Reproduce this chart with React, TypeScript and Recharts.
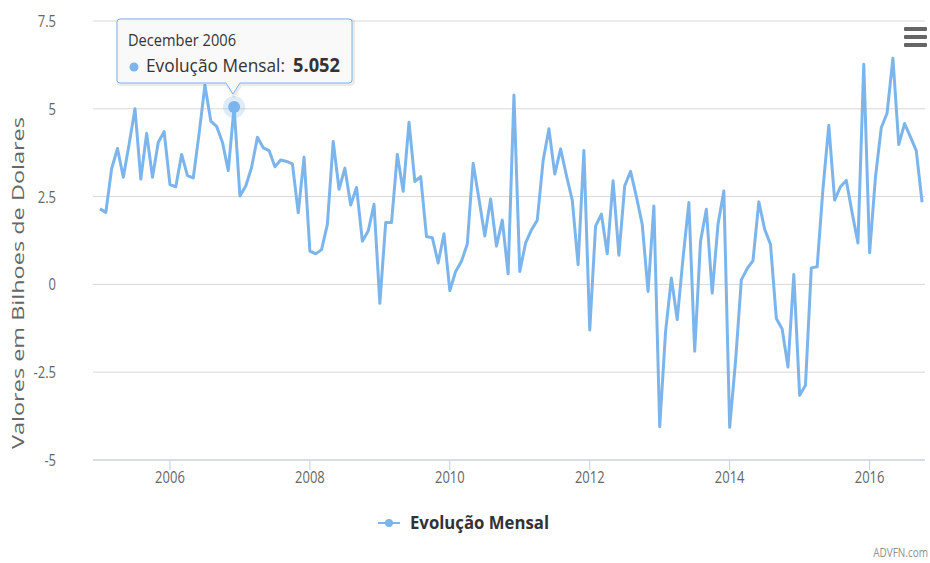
import React from 'react';
import { LineChart, Line, XAxis, YAxis, CartesianGrid, Tooltip, Legend } from 'recharts';

// Evolução mensal (bilhões de US$), Jan 2005 – Oct 2016
const firstYear = 2005;
const monthNames = [
  'January', 'February', 'March', 'April', 'May', 'June',
  'July', 'August', 'September', 'October', 'November', 'December',
];
const v2005 = [2.15, 2.05, 3.3, 3.87, 3.05, 4.0, 5.0, 3.0, 4.3, 3.05, 4.05, 4.35];
const v2006 = [2.84, 2.78, 3.7, 3.1, 3.03, 4.3, 5.67, 4.65, 4.5, 4.05, 3.24, 5.052];
const v2007 = [2.52, 2.8, 3.33, 4.19, 3.89, 3.81, 3.35, 3.54, 3.5, 3.43, 2.04, 3.62];
const v2008 = [0.95, 0.87, 0.99, 1.71, 4.07, 2.71, 3.31, 2.26, 2.76, 1.23, 1.52, 2.28];
const v2009 = [-0.54, 1.76, 1.76, 3.7, 2.65, 4.62, 2.93, 3.07, 1.36, 1.33, 0.61, 1.44];
const v2010 = [-0.18, 0.37, 0.66, 1.15, 3.45, 2.43, 1.38, 2.43, 1.09, 1.83, 0.3, 5.39];
const v2011 = [0.37, 1.18, 1.55, 1.83, 3.52, 4.43, 3.14, 3.86, 3.1, 2.4, 0.56, 3.81];
const v2012 = [-1.3, 1.66, 2.0, 0.87, 2.95, 0.83, 2.81, 3.22, 2.5, 1.71, -0.2, 2.23];
const v2013 = [-4.05, -1.35, 0.18, -1.0, 0.75, 2.33, -1.9, 1.23, 2.14, -0.25, 1.71, 2.66];
const v2014 = [-4.07, -2.2, 0.13, 0.45, 0.68, 2.35, 1.57, 1.14, -0.97, -1.27, -2.35, 0.28];
const v2015 = [-3.16, -2.87, 0.47, 0.5, 2.72, 4.53, 2.4, 2.78, 2.96, 2.04, 1.18, 6.27];
const v2016 = [0.9, 3.05, 4.46, 4.88, 6.44, 3.98, 4.58, 4.2, 3.81, 2.34];

const yearTicks = [12, 36, 60, 84, 108, 132]; // month index of each January shown
const yearLabels = ['2006', '2008', '2010', '2012', '2014', '2016'];
const valueTicks = [-5, -2.5, 0, 2.5, 5, 7.5];
const seriesName = 'Evolução Mensal';
const yTitle = 'Valores em Bilhoes de Dolares';
const credits = 'ADVFN.com';
const highlighted = 23; // December 2006

const monthly = [
  ...v2005, ...v2006, ...v2007, ...v2008, ...v2009, ...v2010,
  ...v2011, ...v2012, ...v2013, ...v2014, ...v2015, ...v2016,
];
const data = monthly.map((v, i) => ({
  m: i,
  label: `${monthNames[i % 12]} ${firstYear + Math.floor(i / 12)}`,
  v,
}));

const BLUE = '#7cb5ec';
const FONT = '"Open Sans", "DejaVu Sans", sans-serif';
const SY = 1.25; // the screenshot looks stretched vertically

function XTick({ x, y, payload }: any) {
  const label = yearLabels[yearTicks.indexOf(payload.value)];
  return (
    <text
      transform={`translate(${x},${y + 11}) scale(1,${SY})`}
      textAnchor="middle"
      fontSize={13}
      fontFamily={FONT}
      fill="#666"
    >
      {label}
    </text>
  );
}

function YTick({ x, y, payload }: any) {
  return (
    <text
      transform={`translate(${x},${y + 6}) scale(1,${SY})`}
      textAnchor="end"
      fontSize={13}
      fontFamily={FONT}
      fill="#666"
    >
      {String(payload.value)}
    </text>
  );
}

function YTitle() {
  return (
    <text
      transform="translate(24,283) rotate(-90)"
      textAnchor="middle"
      fontSize={16}
      fontFamily={FONT}
      fill="#666"
      textLength={332}
      lengthAdjust="spacingAndGlyphs"
    >
      {yTitle}
    </text>
  );
}

function LegendBox() {
  return (
    <svg width={930} height={55} style={{ display: 'block' }}>
      <line x1={378} x2={400} y1={15} y2={15} stroke={BLUE} strokeWidth={2} />
      <circle cx={389} cy={15} r={4} fill={BLUE} />
      <text
        transform={`translate(410,21) scale(1,${SY})`}
        fontSize={14}
        fontWeight="bold"
        fontFamily={FONT}
        fill="#333"
        textLength={139}
        lengthAdjust="spacingAndGlyphs"
      >
        {seriesName}
      </text>
      <text
        transform={`translate(928,49) scale(1,${SY})`}
        textAnchor="end"
        fontSize={10}
        fontFamily={FONT}
        fill="#909090"
      >
        {credits}
      </text>
    </svg>
  );
}

function TipBox({ payload }: any) {
  if (!payload || !payload.length) return null;
  const row = payload[0].payload;
  const shape =
    'M10,5 H239 Q242,5 242,8 V66 Q242,69 239,69 H130 L123,80 L116,69 H10 Q7,69 7,66 V8 Q7,5 10,5 Z';
  return (
    <svg width={252} height={90} style={{ display: 'block', overflow: 'visible' }}>
      <path d={shape} transform="translate(1,1)" fill="none" stroke="rgba(0,0,0,0.08)" strokeWidth={4} />
      <path d={shape} fill="rgba(249,249,249,0.92)" stroke={BLUE} strokeWidth={1} />
      <text
        transform={`translate(18,32) scale(1,${SY})`}
        fontSize={13}
        fontFamily={FONT}
        fill="#333"
        textLength={108}
        lengthAdjust="spacingAndGlyphs"
      >
        {row.label}
      </text>
      <circle cx={24} cy={53} r={4.5} fill={BLUE} />
      <text
        transform={`translate(36,58) scale(1,${SY})`}
        fontSize={15}
        fontFamily={FONT}
        fill="#333"
        textLength={139}
        lengthAdjust="spacingAndGlyphs"
      >
        {seriesName}:
      </text>
      <text
        transform={`translate(183,58) scale(1,${SY})`}
        fontSize={15}
        fontWeight="bold"
        fontFamily={FONT}
        fill="#333"
        textLength={47}
        lengthAdjust="spacingAndGlyphs"
      >
        {Number(row.v).toFixed(3)}
      </text>
    </svg>
  );
}

const bar: React.CSSProperties = {
  position: 'absolute',
  left: 0,
  width: 23,
  height: 4,
  borderRadius: 1,
  background: '#666',
};

export default function App() {
  return (
    <div style={{ position: 'absolute', left: 0, top: 0, width: 930, height: 563, background: '#fff' }}>
      <LineChart width={930} height={563} data={data} margin={{ top: 21, right: 5, left: 0, bottom: 18 }}>
        <CartesianGrid vertical={false} stroke="#d8d8d8" />
        <XAxis
          dataKey="m"
          type="number"
          domain={[-1.2, 141.5]}
          ticks={yearTicks}
          tick={<XTick />}
          height={30}
          tickSize={10}
          axisLine={{ stroke: '#c0d0e0' }}
          tickLine={{ stroke: '#c0d0e0' }}
          allowDataOverflow
        />
        <YAxis
          type="number"
          domain={[-5, 7.5]}
          ticks={valueTicks}
          tick={<YTick />}
          width={93}
          tickSize={0}
          tickMargin={37}
          axisLine={false}
          tickLine={false}
          label={<YTitle />}
        />
        <Tooltip
          content={<TipBox />}
          defaultIndex={highlighted}
          active
          position={{ x: 110, y: 14 }}
          cursor={false}
          isAnimationActive={false}
          wrapperStyle={{ outline: 'none' }}
        />
        <Legend content={<LegendBox />} wrapperStyle={{ top: 508, left: 0, width: 930, height: 55 }} />
        <Line
          type="linear"
          dataKey="v"
          name={seriesName}
          stroke={BLUE}
          strokeWidth={3}
          strokeLinejoin="round"
          dot={false}
          activeDot={{ r: 6, fill: BLUE, stroke: 'rgba(124,181,236,0.25)', strokeWidth: 10 }}
          isAnimationActive={false}
        />
      </LineChart>
      <div style={{ position: 'absolute', left: 904, top: 27, width: 23, height: 20 }}>
        <div style={{ ...bar, top: 0 }} />
        <div style={{ ...bar, top: 8 }} />
        <div style={{ ...bar, top: 16 }} />
      </div>
    </div>
  );
}
